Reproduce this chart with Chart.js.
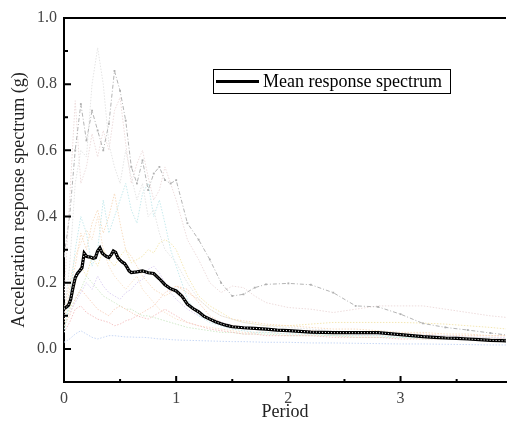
<!DOCTYPE html>
<html>
<head>
<meta charset="utf-8">
<script src="https://cdn.jsdelivr.net/npm/chart.js@4/dist/chart.umd.min.js"></script>
<style>
  html, body { margin: 0; padding: 0; background: #fff; }
  canvas { display: block; }
</style>
</head>
<body>
<canvas id="myChart" width="510" height="421"></canvas>
<script>
// periods (s) shared by the individual records
const periods = [0,0.05,0.1,0.15,0.2,0.25,0.3,0.35,0.4,0.45,0.5,0.55,0.6,0.65,0.7,0.75,0.8,0.85,0.9,0.95,1.0,1.1,1.2,1.3,1.4,1.5,1.6,1.7,1.8,2.0,2.2,2.4,2.6,2.8,3.0,3.2,3.4,3.6,3.8,3.95];

// individual records (g)
const recGrey   = [0.28,0.40,0.60,0.74,0.63,0.72,0.66,0.60,0.68,0.84,0.78,0.69,0.55,0.50,0.57,0.48,0.53,0.55,0.51,0.50,0.51,0.38,0.33,0.27,0.20,0.16,0.165,0.185,0.195,0.198,0.194,0.17,0.13,0.127,0.105,0.077,0.065,0.057,0.048,0.042];
const recLight  = [0.10,0.25,0.50,0.60,0.58,0.80,0.91,0.80,0.62,0.55,0.50,0.60,0.52,0.45,0.50,0.40,0.42,0.35,0.30,0.28,0.26,0.20,0.15,0.12,0.10,0.09,0.08,0.075,0.07,0.065,0.06,0.055,0.05,0.05,0.045,0.04,0.04,0.035,0.035,0.03];
const recPink   = [0.15,0.45,0.75,0.50,0.55,0.65,0.58,0.66,0.60,0.72,0.76,0.62,0.50,0.56,0.60,0.52,0.45,0.48,0.55,0.50,0.45,0.33,0.27,0.20,0.17,0.19,0.185,0.16,0.14,0.125,0.12,0.11,0.12,0.13,0.13,0.13,0.12,0.11,0.10,0.095];
const recCyan   = [0.05,0.15,0.30,0.40,0.35,0.25,0.30,0.45,0.35,0.40,0.45,0.50,0.42,0.38,0.47,0.50,0.40,0.45,0.38,0.30,0.25,0.15,0.10,0.08,0.07,0.06,0.055,0.05,0.05,0.045,0.045,0.04,0.04,0.04,0.035,0.035,0.03,0.03,0.03,0.03];
const recOrange = [0.08,0.18,0.25,0.35,0.30,0.38,0.42,0.35,0.40,0.47,0.38,0.30,0.28,0.25,0.22,0.20,0.18,0.17,0.16,0.17,0.19,0.17,0.15,0.12,0.10,0.09,0.085,0.08,0.075,0.07,0.065,0.06,0.06,0.055,0.05,0.05,0.045,0.045,0.04,0.04];
const recYellow = [0.06,0.12,0.20,0.25,0.22,0.28,0.25,0.30,0.27,0.25,0.28,0.30,0.26,0.27,0.28,0.30,0.29,0.32,0.33,0.32,0.30,0.22,0.16,0.13,0.11,0.09,0.08,0.075,0.07,0.07,0.075,0.08,0.08,0.08,0.08,0.078,0.075,0.07,0.065,0.06];
const recPurple = [0.09,0.11,0.14,0.17,0.20,0.18,0.22,0.19,0.17,0.16,0.15,0.17,0.18,0.20,0.21,0.24,0.25,0.23,0.20,0.17,0.15,0.12,0.10,0.09,0.08,0.07,0.065,0.06,0.06,0.055,0.05,0.05,0.045,0.045,0.04,0.04,0.04,0.035,0.035,0.035];
const recRed    = [0.05,0.08,0.12,0.13,0.11,0.10,0.09,0.085,0.08,0.07,0.075,0.085,0.09,0.10,0.095,0.09,0.10,0.11,0.12,0.11,0.10,0.08,0.07,0.06,0.055,0.05,0.045,0.045,0.04,0.04,0.04,0.035,0.035,0.035,0.03,0.03,0.03,0.03,0.03,0.03];
const recSalmon = [0.07,0.10,0.15,0.18,0.16,0.14,0.12,0.11,0.10,0.12,0.13,0.12,0.11,0.10,0.11,0.12,0.13,0.15,0.17,0.18,0.19,0.18,0.14,0.10,0.08,0.07,0.065,0.06,0.06,0.055,0.055,0.05,0.05,0.05,0.045,0.045,0.04,0.04,0.04,0.04];
const recBlue   = [0.02,0.03,0.045,0.055,0.045,0.035,0.03,0.035,0.04,0.04,0.038,0.036,0.036,0.035,0.035,0.034,0.032,0.03,0.03,0.028,0.027,0.026,0.025,0.024,0.023,0.022,0.022,0.021,0.02,0.02,0.018,0.018,0.017,0.016,0.015,0.015,0.014,0.013,0.012,0.012];
const recGreen  = [0.10,0.12,0.15,0.18,0.22,0.20,0.18,0.16,0.15,0.14,0.13,0.12,0.12,0.11,0.10,0.10,0.095,0.09,0.085,0.08,0.075,0.065,0.06,0.055,0.05,0.05,0.045,0.045,0.045,0.04,0.04,0.04,0.035,0.035,0.035,0.03,0.03,0.03,0.03,0.025];
const recPeach  = [0.12,0.20,0.28,0.32,0.36,0.33,0.40,0.30,0.25,0.22,0.20,0.18,0.20,0.22,0.18,0.16,0.14,0.12,0.11,0.10,0.09,0.08,0.07,0.065,0.06,0.055,0.05,0.05,0.05,0.045,0.045,0.04,0.04,0.04,0.04,0.035,0.035,0.035,0.03,0.03];

// mean response spectrum
const meanPeriods = [0,0.02,0.04,0.06,0.08,0.10,0.12,0.14,0.16,0.18,0.20,0.22,0.24,0.26,0.28,0.30,0.32,0.34,0.36,0.38,0.40,0.42,0.44,0.46,0.48,0.50,0.52,0.54,0.56,0.58,0.60,0.65,0.70,0.75,0.80,0.85,0.90,0.95,1.00,1.05,1.10,1.15,1.20,1.25,1.30,1.35,1.40,1.45,1.50,1.6,1.7,1.8,1.9,2.0,2.1,2.2,2.3,2.4,2.5,2.6,2.7,2.8,2.9,3.0,3.1,3.2,3.3,3.4,3.5,3.6,3.7,3.8,3.9,3.95];
const meanValues  = [0.122,0.126,0.132,0.150,0.185,0.215,0.228,0.236,0.245,0.289,0.280,0.278,0.277,0.274,0.276,0.296,0.305,0.290,0.284,0.279,0.276,0.284,0.296,0.292,0.276,0.268,0.262,0.258,0.248,0.236,0.231,0.233,0.236,0.230,0.228,0.212,0.194,0.182,0.175,0.160,0.135,0.122,0.112,0.098,0.090,0.082,0.076,0.071,0.067,0.064,0.062,0.060,0.057,0.055,0.053,0.051,0.050,0.049,0.049,0.049,0.049,0.049,0.046,0.043,0.040,0.037,0.035,0.033,0.032,0.030,0.028,0.026,0.025,0.024];

const xMajor = [0,1,2,3];
const xMinor = [0.5,1.5,2.5,3.5];
const yMajor = [0,0.2,0.4,0.6,0.8,1.0];
const yMinor = [-0.1,0.1,0.3,0.5,0.7,0.9];

const FONT = '"Liberation Serif", "Times New Roman", serif';
Chart.defaults.font.family = FONT;

const pts = (xs, ys) => xs.map((x, i) => ({x: x, y: ys[i]}));

const records = [
  [recLight, '#e4e4e4'], [recPink, '#eddcdc'], [recCyan, '#c6eaed'],
  [recOrange, '#f7dcc0'], [recYellow, '#f4e7b4'], [recPurple, '#ddd2f2'],
  [recRed, '#f5c4c4'], [recSalmon, '#f8d2c0'], [recBlue, '#c8d8f5'],
  [recGreen, '#d2eacb'], [recPeach, '#f9e3cc']
];

const datasets = [
  {label: 'meanDots', data: pts(meanPeriods, meanValues), borderColor: '#ffffff', borderWidth: 1,
   borderDash: [1, 2], pointRadius: 0, order: 0},
  {label: 'Mean response spectrum', data: pts(meanPeriods, meanValues), borderColor: '#000', borderWidth: 3.2,
   pointRadius: 0, order: 1},
  {label: 'rec0', data: pts(periods, recGrey), borderColor: '#b4b4b4', borderWidth: 1,
   borderDash: [4, 2, 1, 2], pointStyle: 'rect', pointRadius: 1.3, pointBackgroundColor: '#b0b0b0',
   pointBorderWidth: 0, order: 2}
];
records.forEach(([vals, col], i) => {
  datasets.push({label: 'rec' + (i + 1), data: pts(periods, vals), borderColor: col, borderWidth: 1,
    borderDash: [1.5, 1.5], pointRadius: 0, order: 3 + i});
});

const frame = {
  id: 'frame',
  afterDraw(chart) {
    const ctx = chart.ctx, a = chart.chartArea;
    const xs = chart.scales.x, ys = chart.scales.y;
    ctx.save();
    ctx.strokeStyle = '#000';
    // top border
    ctx.lineWidth = 2;
    ctx.beginPath(); ctx.moveTo(a.left - 1, a.top); ctx.lineTo(a.right, a.top); ctx.stroke();
    // inside ticks
    ctx.lineWidth = 2;
    ctx.beginPath();
    yMajor.forEach(v => { const p = ys.getPixelForValue(v); ctx.moveTo(a.left, p); ctx.lineTo(a.left + 7, p); });
    yMinor.forEach(v => { const p = ys.getPixelForValue(v); ctx.moveTo(a.left, p); ctx.lineTo(a.left + 4, p); });
    xMajor.forEach(v => { const p = xs.getPixelForValue(v); ctx.moveTo(p, a.bottom); ctx.lineTo(p, a.bottom - 6); });
    xMinor.forEach(v => { const p = xs.getPixelForValue(v); ctx.moveTo(p, a.bottom); ctx.lineTo(p, a.bottom - 3); });
    ctx.stroke();
    // legend box
    const lx = a.left + 149, ly = a.top + 51, lw = 237, lh = 24;
    ctx.fillStyle = '#fff';
    ctx.fillRect(lx, ly, lw, lh);
    ctx.lineWidth = 1;
    ctx.strokeRect(lx + 0.5, ly + 0.5, lw, lh);
    ctx.lineWidth = 3;
    ctx.beginPath(); ctx.moveTo(lx + 3, ly + 12.5); ctx.lineTo(lx + 46, ly + 12.5); ctx.stroke();
    ctx.fillStyle = '#000';
    ctx.font = '18px ' + FONT;
    ctx.textBaseline = 'middle';
    ctx.fillText(chart.data.datasets[1].label, lx + 50, ly + 13);
    ctx.restore();
  }
};

new Chart(document.getElementById('myChart').getContext('2d'), {
  type: 'line',
  data: {datasets: datasets},
  options: {
    responsive: false,
    animation: false,
    devicePixelRatio: 1,
    layout: {padding: {top: 18, right: 0, left: 0, bottom: 0}},
    plugins: {legend: {display: false}, tooltip: {enabled: false}},
    elements: {line: {tension: 0}},
    scales: {
      x: {
        type: 'linear', min: 0, max: 3.94,
        afterBuildTicks: s => { s.ticks = xMajor.map(v => ({value: v})); },
        afterFit: s => { s.height = 39; },
        grid: {display: false, drawTicks: false},
        border: {display: true, color: '#000', width: 2},
        ticks: {padding: 7, color: '#444', font: {size: 16}, callback: v => String(v)},
        title: {display: true, text: 'Period', color: '#222', font: {size: 18, lineHeight: 1}, padding: {top: 0, bottom: 0}}
      },
      y: {
        min: -0.1, max: 1.0,
        afterBuildTicks: s => { s.ticks = yMajor.map(v => ({value: v})); },
        afterFit: s => { s.width = 64; },
        grid: {display: false, drawTicks: false},
        border: {display: true, color: '#000', width: 2},
        ticks: {padding: 7, color: '#444', font: {size: 16}, callback: v => v.toFixed(1)},
        title: {display: true, text: 'Acceleration response spectrum (g)', color: '#222',
                font: {size: 18, lineHeight: 1}, padding: {top: 10, bottom: 0}}
      }
    }
  },
  plugins: [frame]
});
</script>
</body>
</html>
